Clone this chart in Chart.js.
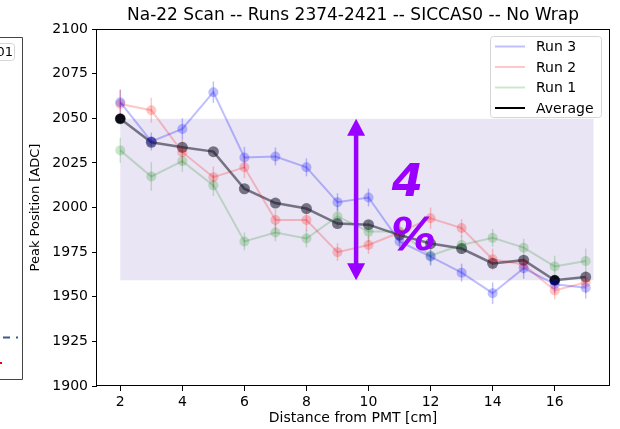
<!DOCTYPE html>
<html>
<head>
<meta charset="utf-8">
<script src="https://cdn.jsdelivr.net/npm/chart.js@4/dist/chart.umd.min.js"></script>
<style>
  html, body { margin: 0; padding: 0; background: #fff; }
</style>
</head>
<body>
<canvas id="scan_chart" width="620" height="429"></canvas>
<script>
// source positions along the bar, cm
const distances = [2, 3, 4, 5, 6, 7, 8, 9, 10, 11, 12, 13, 14, 15, 16, 17];

// fitted peak positions [ADC] and their errors, one list per run
const run3Peak = [2059, 2037, 2044, 2064.6, 2028, 2028.6, 2022.5, 2003, 2005.6, 1981, 1972.5, 1963.5, 1952, 1966, 1957, 1955];
const run3Err  = [7, 5, 6, 6, 6, 5, 5, 5, 5, 5, 5, 5, 6, 6, 5, 6];
const run2Peak = [2058, 2054.5, 2031, 2017, 2022.5, 1993, 1993, 1975, 1979, 1986, 1994, 1988.5, 1971, 1968, 1953.5, 1958];
const run2Err  = [8, 7, 7, 6, 6, 6, 6, 5, 5, 6, 6, 5, 6, 5, 5, 6];
const run1Peak = [2032, 2017.4, 2026, 2012.4, 1981, 1986, 1982.6, 1995, 1986.5, 1986.5, 1973, 1979, 1983, 1977.5, 1967, 1970];
const run1Err  = [7, 8, 6, 6, 5, 5, 5, 6, 6, 5, 5, 5, 5, 5, 6, 7];
const averagePeak = [2049.7, 2036.5, 2033.7, 2031.3, 2010.5, 2002.5, 1999.4, 1991, 1990.4, 1984.5, 1979.8, 1977, 1968.7, 1970.5, 1959.2, 1961];

// highest and lowest average, they set the spread band
const extremeDist = [2, 16];
const extremePeak = [2049.7, 1959.2];
const bandDist = [2, 17.25];
const arrowDist = 9.6;
const spreadLabel = ['4', '%'];
const spreadLabelDist = [11.25, 11.45];
const spreadLabelPeak = [2013, 1983];

const xTicks = [2, 4, 6, 8, 10, 12, 14, 16];
const yTicks = [1900, 1925, 1950, 1975, 2000, 2025, 2050, 2075, 2100];

const toPoints = (xs, ys) => xs.map((x, i) => ({ x: x, y: ys[i] }));

Chart.defaults.font.family = "'DejaVu Sans', sans-serif";
Chart.defaults.color = '#000';

const VIOLET = '#9900ff';

// shaded band + error bars under the lines
const bandPlugin = {
  id: 'band',
  beforeDatasetsDraw(chart) {
    const { ctx, scales: { x, y } } = chart;
    const x0 = x.getPixelForValue(bandDist[0]), x1 = x.getPixelForValue(bandDist[1]);
    const y0 = y.getPixelForValue(Math.max(...extremePeak)), y1 = y.getPixelForValue(Math.min(...extremePeak));
    ctx.save();
    ctx.fillStyle = 'rgb(233,229,244)';
    ctx.fillRect(x0, y0, x1 - x0, y1 - y0);

    chart.data.datasets.forEach(ds => {
      if (!ds.errors) return;
      ctx.strokeStyle = ds.borderColor;
      ctx.lineWidth = 1.5;
      ds.data.forEach((p, i) => {
        const px = x.getPixelForValue(p.x);
        ctx.beginPath();
        ctx.moveTo(px, y.getPixelForValue(p.y - ds.errors[i]));
        ctx.lineTo(px, y.getPixelForValue(p.y + ds.errors[i]));
        ctx.stroke();
      });
    });
    ctx.restore();
  }
};

// double arrow and the spread text
const spreadPlugin = {
  id: 'spread',
  afterDatasetsDraw(chart) {
    const { ctx, scales: { x, y } } = chart;
    const ax = x.getPixelForValue(arrowDist);
    const top = y.getPixelForValue(Math.max(...extremePeak));
    const bot = y.getPixelForValue(Math.min(...extremePeak));
    const headLen = 17, headW = 9;
    ctx.save();
    ctx.strokeStyle = VIOLET;
    ctx.fillStyle = VIOLET;
    ctx.lineWidth = 4.5;
    ctx.beginPath();
    ctx.moveTo(ax, top + headLen - 2);
    ctx.lineTo(ax, bot - headLen + 2);
    ctx.stroke();
    ctx.beginPath();
    ctx.moveTo(ax, top);
    ctx.lineTo(ax - headW, top + headLen);
    ctx.lineTo(ax + headW, top + headLen);
    ctx.closePath();
    ctx.fill();
    ctx.beginPath();
    ctx.moveTo(ax, bot);
    ctx.lineTo(ax - headW, bot - headLen);
    ctx.lineTo(ax + headW, bot - headLen);
    ctx.closePath();
    ctx.fill();

    ctx.font = "italic bold 45px 'DejaVu Sans'";
    ctx.textAlign = 'center';
    ctx.textBaseline = 'middle';
    spreadLabel.forEach((t, i) => {
      ctx.fillText(t, x.getPixelForValue(spreadLabelDist[i]), y.getPixelForValue(spreadLabelPeak[i]));
    });
    ctx.restore();
  }
};

// matplotlib-like frame, legend and the edge of the neighbouring panel
const framePlugin = {
  id: 'frame',
  afterDraw(chart) {
    const { ctx, chartArea: a } = chart;
    ctx.save();
    ctx.strokeStyle = '#000';
    ctx.lineWidth = 1;
    ctx.strokeRect(Math.round(a.left) - 0.5, Math.round(a.top) + 0.5, Math.round(a.right - a.left) + 1, Math.round(a.bottom - a.top) - 1);

    // legend box
    const lx = 490.5, ly = 36.5, lw = 111, lh = 81;
    ctx.beginPath();
    ctx.roundRect(lx, ly, lw, lh, 3);
    ctx.fillStyle = 'rgba(255,255,255,0.8)';
    ctx.fill();
    ctx.strokeStyle = '#d6d6d6';
    ctx.stroke();
    ctx.font = "14px 'DejaVu Sans'";
    ctx.textBaseline = 'middle';
    ctx.textAlign = 'left';
    chart.data.datasets.filter(ds => ds.label).forEach((ds, i) => {
      const ey = 46.5 + i * 20.5;
      ctx.strokeStyle = ds.legendColor || ds.borderColor;
      ctx.lineWidth = 2;
      ctx.beginPath();
      ctx.moveTo(495, ey);
      ctx.lineTo(525, ey);
      ctx.stroke();
      ctx.fillStyle = '#000';
      ctx.fillText(ds.label, 536, ey + 1);
    });

    // neighbouring panel, cut off at the left edge
    ctx.strokeStyle = '#444';
    ctx.lineWidth = 1;
    ctx.beginPath();
    ctx.moveTo(0, 37.5);
    ctx.lineTo(22.5, 37.5);
    ctx.lineTo(22.5, 379.5);
    ctx.lineTo(0, 379.5);
    ctx.stroke();
    ctx.beginPath();
    ctx.roundRect(-6.5, 43.5, 21, 17, 3);
    ctx.strokeStyle = '#d6d6d6';
    ctx.stroke();
    ctx.fillStyle = '#000';
    ctx.font = "13px 'DejaVu Sans'";
    ctx.textAlign = 'right';
    ctx.fillText('01', 13, 52.5);
    ctx.strokeStyle = '#3b5b8c';
    ctx.lineWidth = 2;
    ctx.beginPath();
    ctx.moveTo(3, 337.5);
    ctx.lineTo(10, 337.5);
    ctx.moveTo(16, 337.5);
    ctx.lineTo(18, 337.5);
    ctx.stroke();
    ctx.fillStyle = '#e00';
    ctx.fillRect(0, 362, 2, 2);
    ctx.restore();
  }
};

const runStyle = (color) => ({
  borderColor: color,
  backgroundColor: color,
  pointBackgroundColor: color,
  pointBorderColor: color,
  pointBorderWidth: 0,
  pointRadius: 5,
  borderWidth: 2,
  tension: 0
});

new Chart('scan_chart', {
  type: 'line',
  data: {
    datasets: [
      { label: 'Run 3', data: toPoints(distances, run3Peak), errors: run3Err, ...runStyle('rgba(0,0,255,0.25)') },
      { label: 'Run 2', data: toPoints(distances, run2Peak), errors: run2Err, ...runStyle('rgba(255,0,0,0.22)') },
      { label: 'Run 1', data: toPoints(distances, run1Peak), errors: run1Err, ...runStyle('rgba(0,128,0,0.2)') },
      { label: 'Average', data: toPoints(distances, averagePeak), legendColor: '#000',
        ...runStyle('rgba(20,20,40,0.55)'), borderWidth: 2.5, pointRadius: 5.5 },
      { data: toPoints(extremeDist, extremePeak), showLine: false, ...runStyle('#000'), pointRadius: 5 }
    ]
  },
  options: {
    responsive: false,
    animation: false,
    layout: { padding: { left: 0, right: 11, top: 0, bottom: 0 } },
    plugins: {
      legend: { display: false },
      tooltip: { enabled: false },
      title: {
        display: true,
        fullSize: false,
        text: 'Na-22 Scan -- Runs 2374-2421 -- SICCAS0 -- No Wrap',
        font: { size: 17, weight: 'normal' },
        color: '#000',
        padding: { top: 5, bottom: 3.6 }
      }
    },
    scales: {
      x: {
        type: 'linear',
        min: 1.25,
        max: 17.75,
        afterBuildTicks: s => { s.ticks = xTicks.map(v => ({ value: v })); },
        afterFit: s => { s.height = 43; },
        grid: { drawOnChartArea: false, drawTicks: true, tickLength: 5, color: '#000' },
        border: { display: false },
        ticks: { font: { size: 14 }, padding: 3, maxRotation: 0, callback: v => String(v) },
        title: { display: true, text: 'Distance from PMT [cm]', font: { size: 14 }, padding: { top: 0, bottom: 2.6 } }
      },
      y: {
        min: 1900,
        max: 2100,
        afterBuildTicks: s => { s.ticks = yTicks.map(v => ({ value: v })); },
        afterFit: s => { s.width = 97; },
        grid: { drawOnChartArea: false, drawTicks: true, tickLength: 5, color: '#000' },
        border: { display: false },
        ticks: { font: { size: 14 }, padding: 4, callback: v => String(v) },
        title: { display: true, text: 'Peak Position [ADC]', font: { size: 13 }, padding: { top: 28, bottom: 0 } }
      }
    }
  },
  plugins: [bandPlugin, spreadPlugin, framePlugin]
});
</script>
</body>
</html>
